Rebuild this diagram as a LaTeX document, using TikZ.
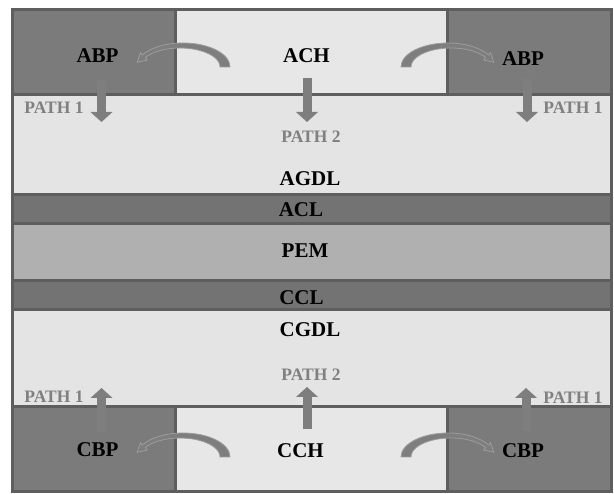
\documentclass[tikz,border=0pt]{standalone}
\usepackage{fontspec}
\setmainfont{Liberation Serif}
\usetikzlibrary{arrows.meta}

\definecolor{bpgray}{HTML}{7B7B7B}
\definecolor{chgray}{HTML}{E7E7E7}
\definecolor{gdlgray}{HTML}{E4E4E4}
\definecolor{clgray}{HTML}{737373}
\definecolor{pemgray}{HTML}{B0B0B0}
\definecolor{edgegray}{HTML}{5E5E5E}
\definecolor{pathgray}{HTML}{808080}
\definecolor{arrowgray}{HTML}{7E7E7E}
\definecolor{rimgray}{HTML}{9C9C9C}

% curved arrow, thick end at the origin
\newcommand{\bendarrow}[1]{%
  \begin{scope}[#1]
    \filldraw[bendshape] (0,0) arc[start angle=0, end angle=-150, x radius=47, y radius=24]
      -- (-89.5,-14.4) -- (-92.8,-4.7) -- (-82.7,-7) -- (-84.6,-9.5)
      arc[start angle=-150, end angle=0, x radius=40, y radius=19] -- cycle;
  \end{scope}}

\begin{document}
\begin{tikzpicture}[x=1pt, y=-1pt, every node/.style={inner sep=0pt},
    layer/.style={draw=edgegray, line width=3pt},
    lbl/.style={font=\bfseries\fontsize{21}{24}\selectfont},
    pathlbl/.style={font=\bfseries\fontsize{17.5}{20}\selectfont, text=pathgray},
    flow/.style={draw=arrowgray, line width=9pt, -{Triangle[width=21.5pt, length=10pt]}},
    bendshape/.style={fill=arrowgray, draw=rimgray, line width=0.8pt}]
    \useasboundingbox (0,0) rectangle (614,494);

    % Layers
    \draw[layer, fill=gdlgray] (12,95) rectangle (611,195);
    \draw[layer, fill=clgray] (12,195) rectangle (611,223.5);
    \draw[layer, fill=pemgray] (12,223.5) rectangle (611,280.5);
    \draw[layer, fill=clgray] (12,280.5) rectangle (611,309.5);
    \draw[layer, fill=gdlgray] (12,309.5) rectangle (611,407);
    \draw[layer, fill=bpgray] (12,10) rectangle (175,95);
    \draw[layer, fill=chgray] (175,10) rectangle (447,95);
    \draw[layer, fill=bpgray] (447,10) rectangle (611,95);
    \draw[layer, fill=bpgray] (12,407) rectangle (175,492);
    \draw[layer, fill=chgray] (175,407) rectangle (447,492);
    \draw[layer, fill=bpgray] (447,407) rectangle (611,492);

    % Nodes
    \node (abpL) [lbl] at (97.5,56) {ABP};
    \node (ach) [lbl] at (306.5,56) {ACH};
    \node (abpR) [lbl] at (523,59) {ABP};
    \node (agdl) [lbl] at (310,179) {AGDL};
    \node (acl) [lbl] at (301,209.5) {ACL};
    \node (pem) [lbl] at (305,251) {PEM};
    \node (ccl) [lbl] at (301.5,297.5) {CCL};
    \node (cgdl) [lbl] at (310,330) {CGDL};
    \node (cbpL) [lbl] at (97.5,450) {CBP};
    \node (cch) [lbl] at (300.5,451) {CCH};
    \node (cbpR) [lbl] at (523,451) {CBP};

    \node (p1aL) [pathlbl] at (54,108) {PATH 1};
    \node (p1aR) [pathlbl] at (573,108) {PATH 1};
    \node (p2a) [pathlbl] at (311,137) {PATH 2};
    \node (p2c) [pathlbl] at (311,375) {PATH 2};
    \node (p1cL) [pathlbl] at (54,397) {PATH 1};
    \node (p1cR) [pathlbl] at (573,398) {PATH 1};

    % Arrow ends
    \coordinate (aL0) at (101.5,80);  \coordinate (aL1) at (101.5,122);
    \coordinate (aM0) at (307,78);    \coordinate (aM1) at (307,122);
    \coordinate (aR0) at (527,79);    \coordinate (aR1) at (527,122);
    \coordinate (cL0) at (101.5,432); \coordinate (cL1) at (101.5,388);
    \coordinate (cM0) at (307,429);   \coordinate (cM1) at (307,387);
    \coordinate (cR0) at (526,431);   \coordinate (cR1) at (526,388);

    % Straight arrows
    \draw[flow] (aL0) -- (aL1);
    \draw[flow] (aM0) -- (aM1);
    \draw[flow] (aR0) -- (aR1);
    \draw[flow] (cL0) -- (cL1);
    \draw[flow] (cM0) -- (cM1);
    \draw[flow] (cR0) -- (cR1);

    % Curved arrows
    \bendarrow{shift={(230,67)}}
    \bendarrow{shift={(401,67)}, xscale=-1}
    \bendarrow{shift={(230,457)}}
    \bendarrow{shift={(401,457)}, xscale=-1}

\end{tikzpicture}
\end{document}
